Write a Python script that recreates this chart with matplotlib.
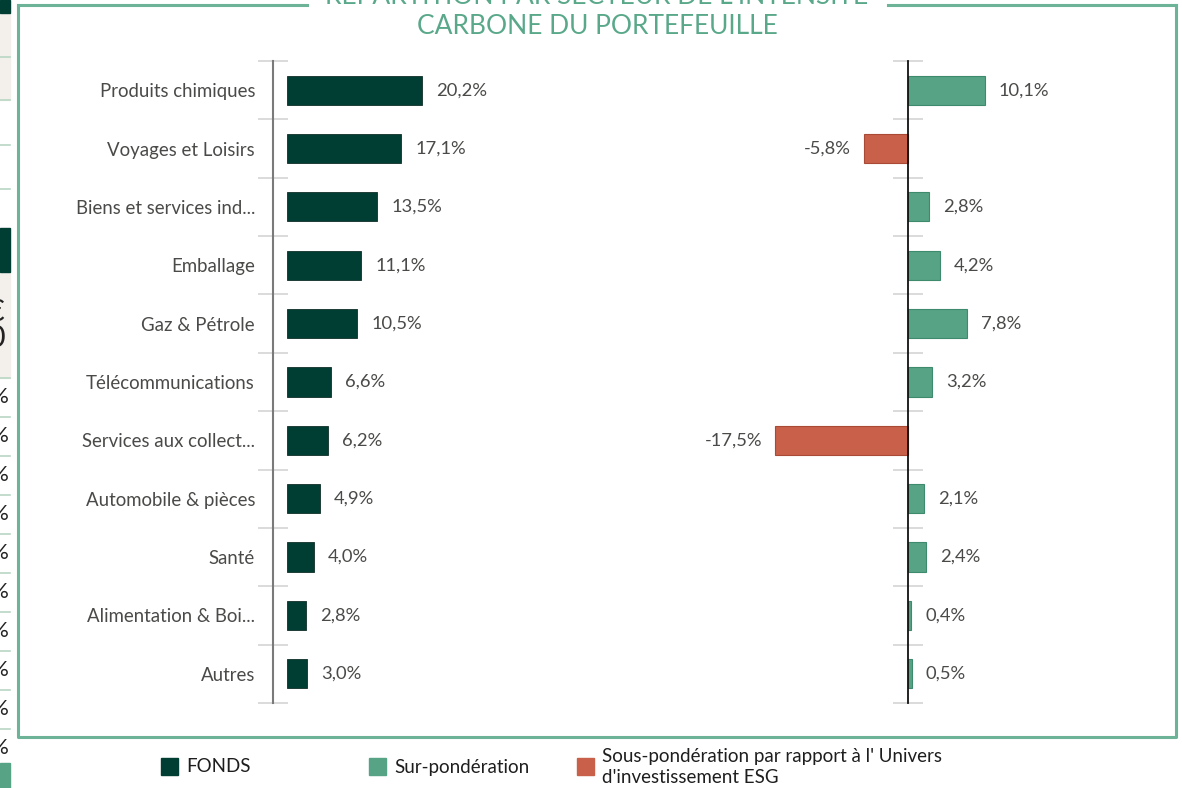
import matplotlib.pyplot as plt
from matplotlib.patches import Rectangle
from matplotlib.lines import Line2D

plt.rcParams['font.family'] = ['Lato', 'DejaVu Sans']

secteurs = ["Produits chimiques", "Voyages et Loisirs", "Biens et services ind...",
            "Emballage", "Gaz & Pétrole", "Télécommunications",
            "Services aux collect...", "Automobile & pièces", "Santé",
            "Alimentation & Boi...", "Autres"]
fonds = [20.2, 17.1, 13.5, 11.1, 10.5, 6.6, 6.2, 4.9, 4.0, 2.8, 3.0]
ecart = [10.1, -5.8, 2.8, 4.2, 7.8, 3.2, -17.5, 2.1, 2.4, 0.4, 0.5]

c_fonds = "#003d33"
c_sur = "#56a386"
c_sous = "#c9614a"
c_cadre = "#6db398"
c_texte = "#4a4a48"

W, H = 1182, 788
fig = plt.figure(figsize=(W / 100, H / 100), dpi=100)


def fx(px):
    return px / W


def fy(py):
    return 1 - py / H


n = len(secteurs)
ypos = list(range(n))
top, bottom = 61, 703
pt = 0.72  # points per pixel at 100 dpi

# left panel: fund weights
ax1 = fig.add_axes([fx(273), fy(bottom), fx(620 - 273), (bottom - top) / H])
ax1.barh(ypos, fonds, height=0.5, color=c_fonds, edgecolor="#0f2e28", linewidth=0.6)
ax1.set_xlim(-14 / 6.68, (620 - 287) / 6.68)
ax1.set_ylim(n - 0.5, -0.5)
for y, v in zip(ypos, fonds):
    ax1.annotate(f"{v:.1f}%".replace(".", ","), (v, y), xytext=(14 * pt, 0),
                 textcoords="offset points", va="center", ha="left",
                 fontsize=13.2, color=c_texte)
ax1.set_yticks(ypos)
ax1.set_yticklabels(secteurs)
ax1.tick_params(axis="y", which="major", length=0, pad=18 * pt,
                labelsize=13.4, labelcolor=c_texte)
ax1.set_yticks([i - 0.5 for i in range(n + 1)], minor=True)
ax1.tick_params(axis="y", which="minor", direction="inout", length=21,
                width=1.2, color="#d4d4d4")
ax1.set_xticks([])
for s in ["top", "right", "bottom"]:
    ax1.spines[s].set_visible(False)
ax1.spines["left"].set_color("#7a7a7a")
ax1.spines["left"].set_linewidth(1.5)
ax1.patch.set_alpha(0)

# right panel: over / under weight vs ESG universe
sc = 7.58
ax2 = fig.add_axes([fx(740), fy(bottom), fx(1120 - 740), (bottom - top) / H])
cols = [c_sur if v >= 0 else c_sous for v in ecart]
edges = ["#3e8a6c" if v >= 0 else "#a84a36" for v in ecart]
ax2.barh(ypos, ecart, height=0.5, color=cols, edgecolor=edges, linewidth=0.8)
ax2.set_xlim((740 - 908) / sc, (1120 - 908) / sc)
ax2.set_ylim(n - 0.5, -0.5)
for y, v in zip(ypos, ecart):
    off = 14 * pt if v >= 0 else -13 * pt
    ax2.annotate(f"{v:.1f}%".replace(".", ","), (v, y), xytext=(off, 0),
                 textcoords="offset points", va="center",
                 ha="left" if v >= 0 else "right", fontsize=13.2, color=c_texte)
ax2.set_yticks([i - 0.5 for i in range(n + 1)])
ax2.set_yticklabels([])
ax2.tick_params(axis="y", direction="inout", length=21, width=1.2, color="#d4d4d4")
ax2.set_xticks([])
for s in ["top", "right", "bottom"]:
    ax2.spines[s].set_visible(False)
ax2.spines["left"].set_position(("data", 0))
ax2.spines["left"].set_color("#111111")
ax2.spines["left"].set_linewidth(1.3)
ax2.spines["left"].set_zorder(3)
ax2.patch.set_alpha(0)

# frame around the chart, broken by the title
lw = 2.2
fig.add_artist(Line2D([fx(18), fx(18), fx(1176), fx(1176)],
                      [fy(5), fy(737), fy(737), fy(5)], color=c_cadre, lw=lw))
fig.add_artist(Line2D([fx(18), fx(307)], [fy(5), fy(5)], color=c_cadre, lw=lw))
fig.add_artist(Line2D([fx(888), fx(1176)], [fy(5), fy(5)], color=c_cadre, lw=lw))

fig.text(fx(597), fy(-3), "RÉPARTITION PAR SECTEUR DE L'INTENSITÉ", ha="center",
         va="center", fontsize=19, color="#5aa88a")
fig.text(fx(597), fy(26), "CARBONE DU PORTEFEUILLE", ha="center",
         va="center", fontsize=19, color="#5aa88a")

# legend
leg = [(161, c_fonds, "FONDS"), (369, c_sur, "Sur-pondération"),
       (577, c_sous, "Sous-pondération par rapport à l' Univers\nd'investissement ESG")]
for x0, col, lab in leg:
    fig.add_artist(Rectangle((fx(x0), fy(775)), fx(17), 17 / H, color=col))
    fig.text(fx(x0 + 25), fy(767), lab, ha="left", va="center", fontsize=13.5,
             color="#1e1e1e", linespacing=1.25)

# edge of the neighbouring panel on the left
fig.add_artist(Rectangle((0, fy(100)), fx(10), 87 / H, color="#f3f0eb"))
fig.add_artist(Rectangle((0, fy(378)), fx(10), 106 / H, color="#f3f0eb"))
fig.add_artist(Rectangle((0, fy(13)), fx(10), 13 / H, color=c_fonds))
fig.add_artist(Rectangle((0, fy(272)), fx(10), 44 / H, color=c_fonds))
fig.add_artist(Rectangle((0, fy(788)), fx(10), 25 / H, color=c_sur))
for yl in [57, 100, 145, 189, 378] + [417 + 39 * k for k in range(9)]:
    fig.add_artist(Line2D([0, fx(10)], [fy(yl), fy(yl)], color="#b9d6c4", lw=1.2))
for yl in [397 + 39 * k for k in range(10)]:
    fig.text(fx(-9), fy(yl), "%", ha="left", va="center", fontsize=16, color="#222222")
fig.text(fx(-13), fy(312), "€", ha="left", va="center", fontsize=22, color="#222222")
fig.text(fx(-13), fy(338), "0", ha="left", va="center", fontsize=22, color="#222222")

fig.savefig("out.png", dpi=100)
